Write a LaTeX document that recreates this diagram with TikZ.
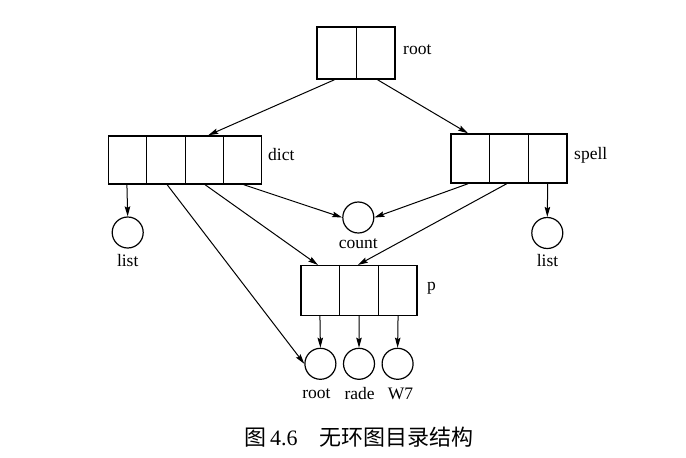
\documentclass[tikz,border=0pt]{standalone}
\usepackage{fontspec}
\setmainfont{Liberation Serif}
\newfontfamily\cjk{Noto Sans CJK SC}
\usetikzlibrary{arrows.meta,calc}
\begin{document}
\begin{tikzpicture}[x=1pt,y=-1pt,
  box/.style={draw,line width=1.5pt,inner sep=0pt,minimum width=#1,fill=none},
  circ/.style={draw,line width=1.2pt,circle,inner sep=0pt,minimum size=31pt},
  lab/.style={font=\fontsize{17.5}{19}\selectfont,inner sep=0pt},
  arr/.style={draw,line width=1pt,-{Stealth[length=10pt,width=5.5pt,inset=1.5pt]}},
  divider/.style={line width=1pt}]
\useasboundingbox[fill=white] (0,0) rectangle (686,458);
% boxes
\node[box=78.3pt,minimum height=52pt] (root) at (356,53) {};
\node[box=153.4pt,minimum height=48pt] (dict) at (185,160) {};
\node[box=115.7pt,minimum height=49pt] (spell) at (509,158.5) {};
\node[box=115.7pt,minimum height=49.6pt] (p) at (359,290.5) {};
% dividers
\draw[divider] ($(root.north west)!0.5!(root.north east)$) -- ($(root.south west)!0.5!(root.south east)$);
\foreach \f in {0.25,0.5,0.75}
  \draw[divider] ($(dict.north west)!\f!(dict.north east)$) -- ($(dict.south west)!\f!(dict.south east)$);
\foreach \f in {0.3333,0.6667}{
  \draw[divider] ($(spell.north west)!\f!(spell.north east)$) -- ($(spell.south west)!\f!(spell.south east)$);
  \draw[divider] ($(p.north west)!\f!(p.north east)$) -- ($(p.south west)!\f!(p.south east)$);
}
% box labels
\node[lab,anchor=west] (rootlab) at (403,50) {root};
\node[lab,anchor=west] (dictlab) at (268,155) {dict};
\node[lab,anchor=west] (spelllab) at (574,155) {spell};
\node[lab,anchor=west] (plab) at (427,288) {p};
% circles
\node[circ] (listL) at (127.7,232.5) {};
\node[circ] (count) at (358.3,217.5) {};
\node[circ] (listR) at (547.3,233) {};
\node[circ] (c1) at (320.4,363.8) {};
\node[circ] (c2) at (359,363.8) {};
\node[circ] (c3) at (397.6,363.8) {};
% circle labels
\node[lab] (listLlab) at (127.7,261) {list};
\node[lab] (countlab) at (358.3,244) {count};
\node[lab] (listRlab) at (547.5,260.5) {list};
\node[lab] (c1lab) at (316.5,394) {root};
\node[lab] (c2lab) at (359.7,394) {rade};
\node[lab] (c3lab) at (400.5,394) {W7};
% connectors
\draw[arr] ($(root.south west)!0.23!(root.south east)$) -- ($(dict.north west)!0.65!(dict.north east)$);
\draw[arr] ($(root.south west)!0.77!(root.south east)$) -- ($(spell.north west)!0.15!(spell.north east)$);
\draw[arr] ($(dict.south west)!0.125!(dict.south east)$) -- (listL.north);
\draw[arr] ($(dict.south west)!0.385!(dict.south east)$) -- (c1.west);
\draw[arr] ($(dict.south west)!0.63!(dict.south east)$) -- ($(p.north west)!0.15!(p.north east)$);
\draw[arr] ($(dict.south west)!0.88!(dict.south east)$) -- (count.west);
\draw[arr] ($(spell.south west)!0.15!(spell.south east)$) -- (count.east);
\draw[arr] ($(spell.south west)!0.48!(spell.south east)$) -- ($(p.north west)!0.49!(p.north east)$);
\draw[arr] ($(spell.south west)!0.83!(spell.south east)$) -- (listR.north);
\draw[arr] ($(p.south west)!0.1667!(p.south east)$) -- (c1.north);
\draw[arr] ($(p.south west)!0.5!(p.south east)$) -- (c2.north);
\draw[arr] ($(p.south west)!0.8333!(p.south east)$) -- (c3.north);
% caption
\node[inner sep=0pt,font=\fontsize{22}{24}\selectfont] (caption) at (359,437) {{\cjk 图}\,4.6\hspace{1em}{\cjk 无环图目录结构}};
\end{tikzpicture}
\end{document}
